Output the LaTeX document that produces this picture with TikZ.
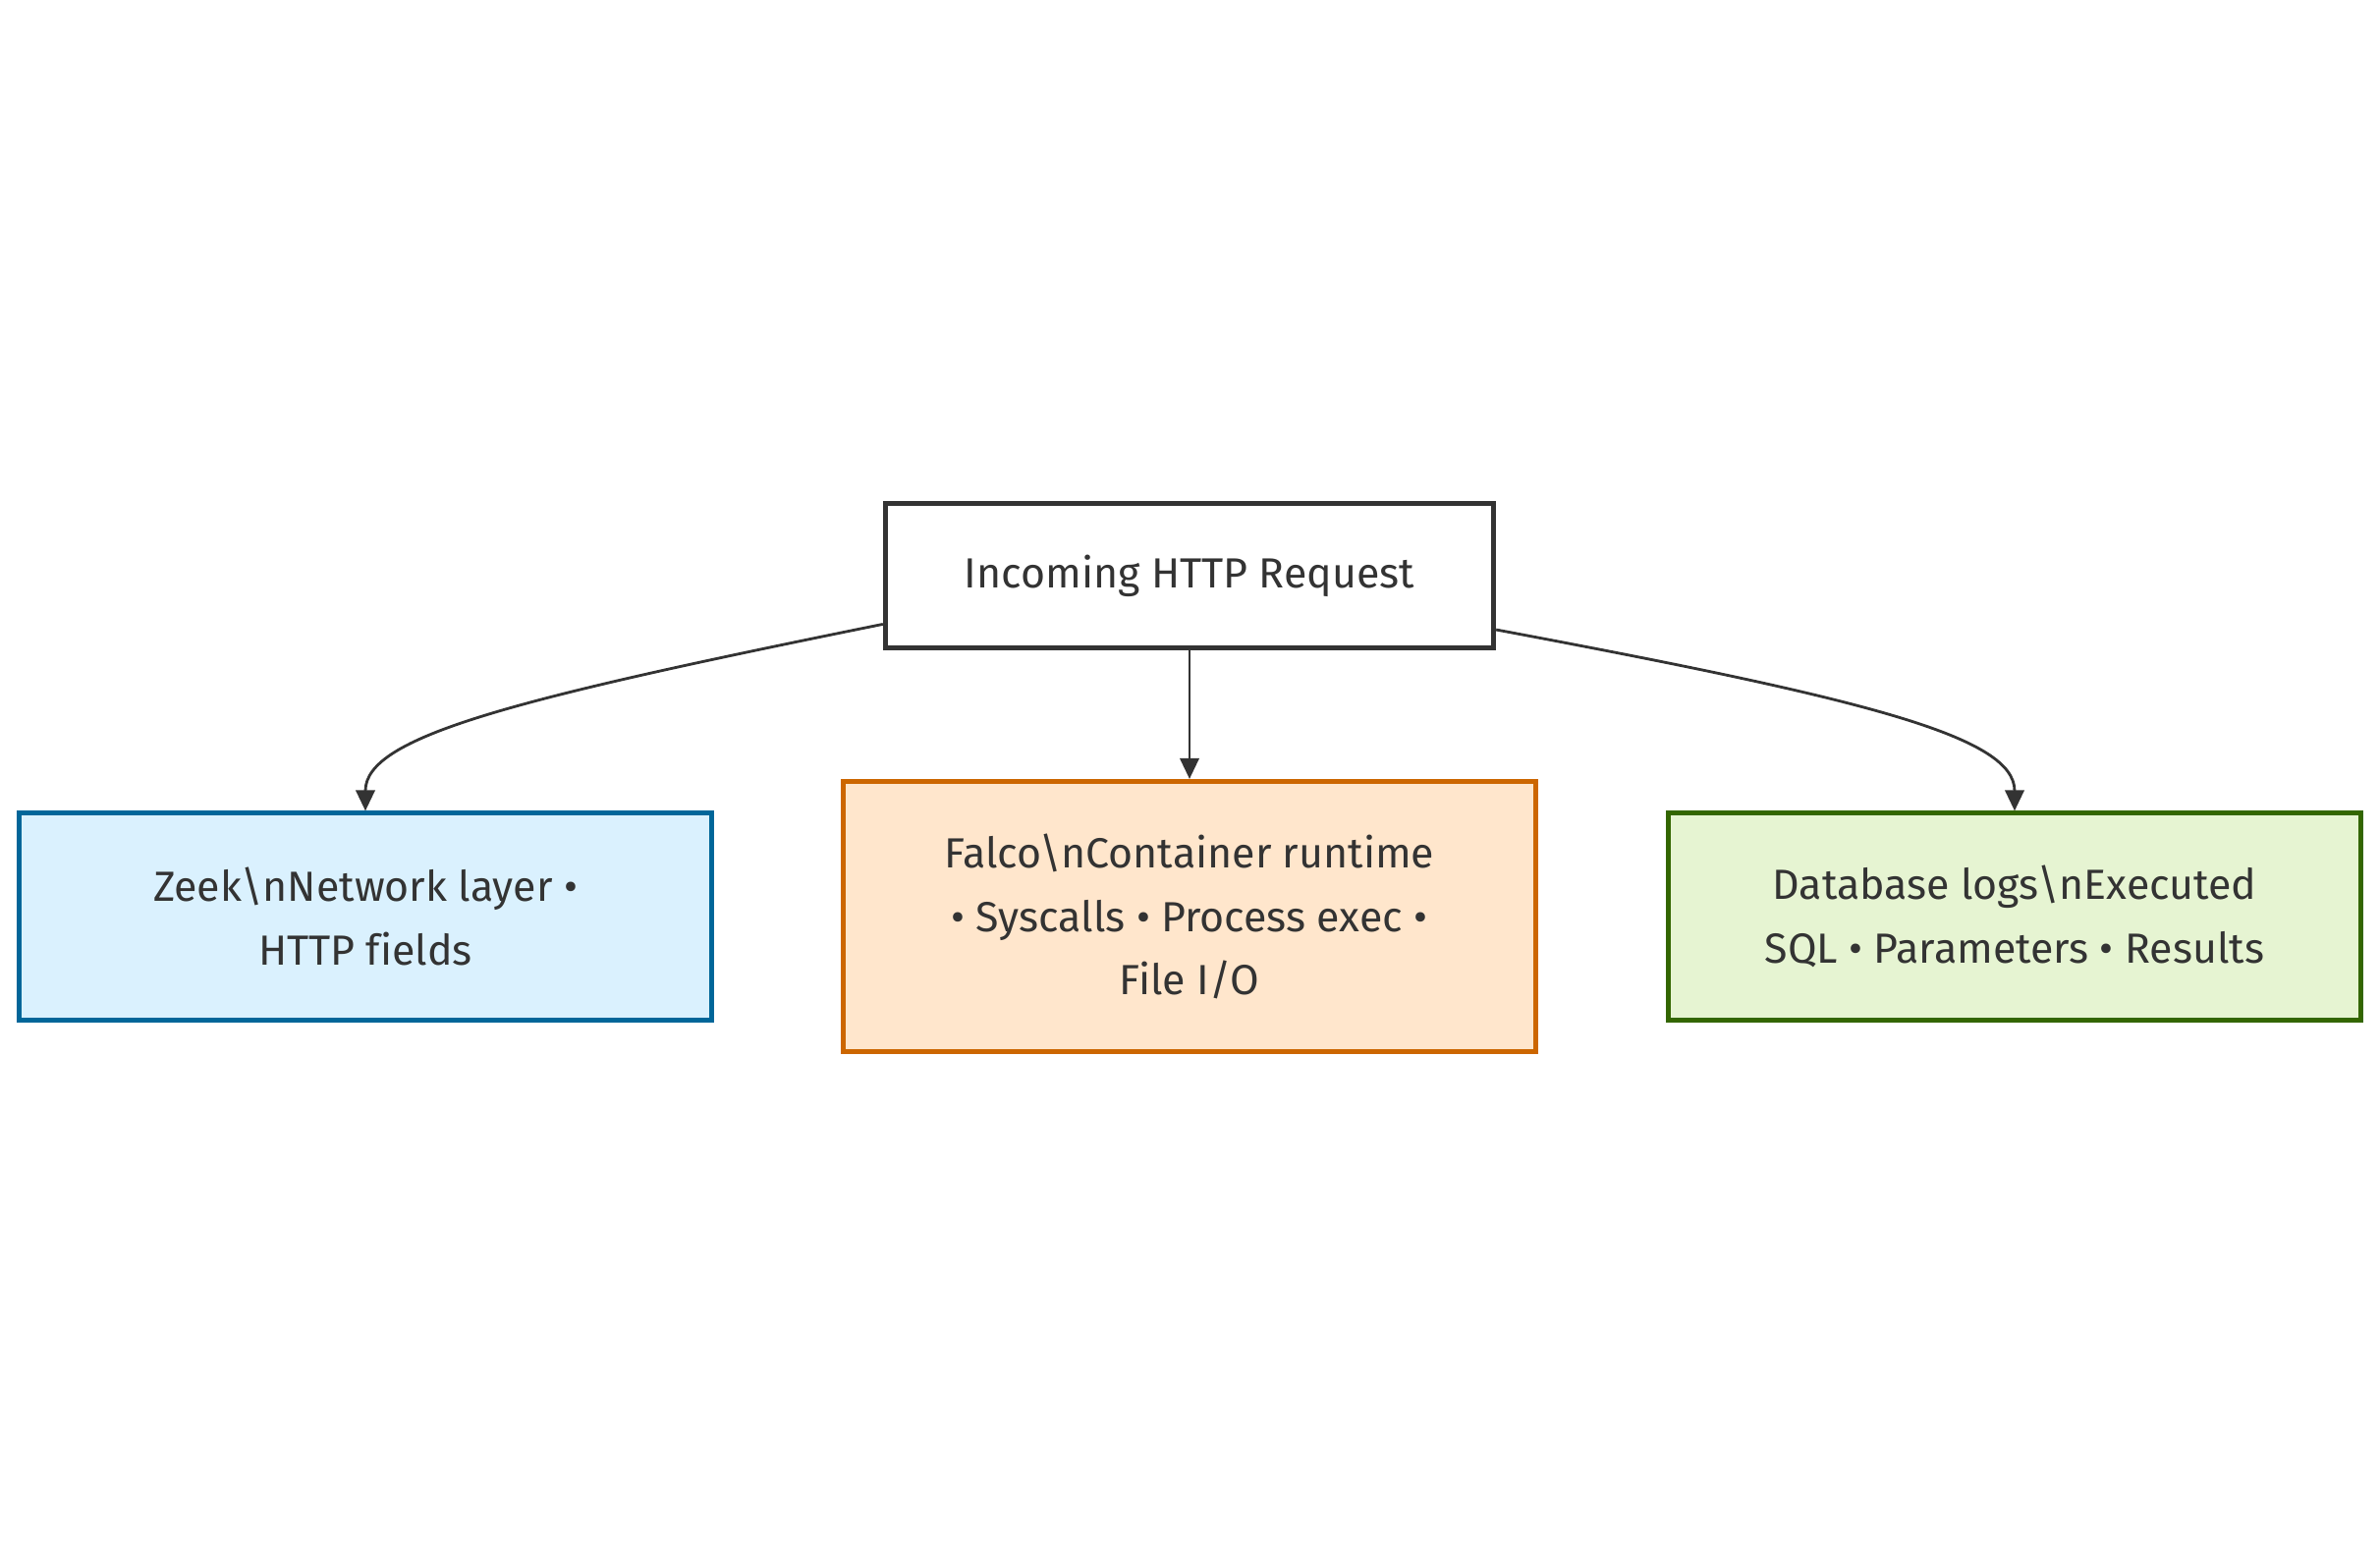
\documentclass[tikz,border=0pt]{standalone}
\usepackage{fontspec}
\setmainfont[Ligatures = NoCommon]{Fira Sans}
\usetikzlibrary{arrows.meta}
\definecolor{inkgray}{HTML}{333333}
\definecolor{zeekfill}{HTML}{DAF1FE}
\definecolor{zeekline}{HTML}{006699}
\definecolor{falcofill}{HTML}{FFE6CC}
\definecolor{falcoline}{HTML}{CC6600}
\definecolor{dbfill}{HTML}{E6F4D2}
\definecolor{dbline}{HTML}{336600}
\tikzset{
  box/.style = {draw, line width = 1.4pt, align = center, text = inkgray, font = \fontsize{12.2}{18.4}\selectfont},
  srcbox/.style = {box, draw = inkgray, fill = white, minimum width = 6.19cm, minimum height = 1.47cm},
  layerbox/.style = {box, minimum width = 7.05cm, minimum height = 2.10cm},
  link/.style = {draw = inkgray, line width = 0.8pt, -{Triangle[length = 6pt, width = 5.5pt]}}
}
\begin{document}
\begin{tikzpicture}[x = 0.01cm, y = -0.01cm]
\useasboundingbox (0,0) rectangle (2423,1586);
% request and the three layers that see it
\node[srcbox] (req) at (1211,586) {Incoming HTTP Request};
\node[layerbox, fill = zeekfill, draw = zeekline] (zeek) at (372,933) {Zeek\textbackslash nNetwork layer •\\HTTP fields};
\node[layerbox, fill = falcofill, draw = falcoline, minimum height = 2.75cm] (falco) at (1211,933) {Falco\textbackslash nContainer runtime\\• Syscalls • Process exec •\\File I/O};
\node[layerbox, fill = dbfill, draw = dbline] (db) at (2051,933) {Database logs\textbackslash nExecuted\\SQL • Parameters • Results};
% links
\draw[link] (req.189.5) .. controls (520,712) and (372,750) .. (zeek.north);
\draw[link] (req.south) -- (falco.north);
\draw[link] (req.350.5) .. controls (1902,712) and (2051,750) .. (db.north);
\end{tikzpicture}
\end{document}
